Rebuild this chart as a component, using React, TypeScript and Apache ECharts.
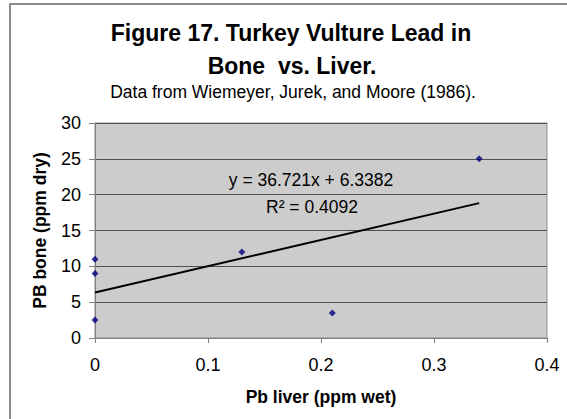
import React, { useEffect, useRef } from "react";
import * as echarts from "echarts";

const liverPb: number[] = [0, 0, 0, 0.13, 0.21, 0.34];
const bonePb: number[] = [2.5, 9, 11, 12, 3.5, 25];
const slope = 36.721;
const intercept = 6.3382;
const rSquared = 0.4092;
const xTicks = { min: 0, max: 0.4, interval: 0.1 };
const yTicks = { min: 0, max: 30, interval: 5 };

const FONT = "'Liberation Sans', Arial, sans-serif";

export default function App() {
  const ref = useRef<HTMLDivElement>(null);
  useEffect(() => {
    if (!ref.current) return;
    const chart = echarts.init(ref.current, null, { renderer: "svg" });
    const xMin = Math.min(...liverPb);
    const xMax = Math.max(...liverPb);
    const trend = [
      [xMin, intercept + slope * xMin],
      [xMax, intercept + slope * xMax],
    ];
    chart.setOption({
      animation: false,
      backgroundColor: "#ffffff",
      textStyle: { fontFamily: FONT },
      graphic: [
        {
          type: "rect",
          shape: { x: 10, y: 4, width: 600, height: 500 },
          style: { fill: "none", stroke: "#8c8c8c", lineWidth: 2 },
          silent: true,
          z: 0,
        },
        {
          type: "text",
          x: 291,
          y: 33,
          style: {
            text: "Figure 17. Turkey Vulture Lead in",
            font: `bold 23px ${FONT}`,
            fill: "#000",
            align: "center",
            verticalAlign: "middle",
          },
        },
        {
          type: "text",
          x: 292,
          y: 66,
          style: {
            text: "Bone  vs. Liver.",
            font: `bold 23px ${FONT}`,
            fill: "#000",
            align: "center",
            verticalAlign: "middle",
          },
        },
        {
          type: "text",
          x: 293,
          y: 92,
          style: {
            text: "Data from Wiemeyer, Jurek, and Moore (1986).",
            font: `17.5px ${FONT}`,
            fill: "#000",
            align: "center",
            verticalAlign: "middle",
          },
        },
        {
          type: "text",
          x: 311,
          y: 180,
          style: {
            text: `y = ${slope}x + ${intercept}`,
            font: `17.5px ${FONT}`,
            fill: "#000",
            align: "center",
            verticalAlign: "middle",
          },
          z: 10,
        },
        {
          type: "text",
          x: 312,
          y: 207,
          style: {
            text: `R² = ${rSquared}`,
            font: `17.5px ${FONT}`,
            fill: "#000",
            align: "center",
            verticalAlign: "middle",
          },
          z: 10,
        },
      ],
      grid: {
        left: 95,
        top: 123,
        right: 20,
        bottom: 81,
        show: true,
        backgroundColor: "#cccccc",
        borderColor: "#8c8c8c",
        borderWidth: 1,
      },
      xAxis: {
        type: "value",
        min: xTicks.min,
        max: xTicks.max,
        interval: xTicks.interval,
        name: "Pb liver (ppm wet)",
        nameLocation: "middle",
        nameGap: 50,
        nameTextStyle: { fontFamily: FONT, fontWeight: "bold", fontSize: 17.5, color: "#000" },
        axisLine: { show: true, onZero: false, lineStyle: { color: "#808080", width: 1 } },
        axisTick: { show: true, inside: false, length: 5, lineStyle: { color: "#808080" } },
        axisLabel: { fontFamily: FONT, fontSize: 18, color: "#000", margin: 18 },
        splitLine: { show: false },
      },
      yAxis: {
        type: "value",
        min: yTicks.min,
        max: yTicks.max,
        interval: yTicks.interval,
        name: "PB bone (ppm dry)",
        nameLocation: "middle",
        nameGap: 46,
        nameTextStyle: { fontFamily: FONT, fontWeight: "bold", fontSize: 17.5, color: "#000" },
        axisLine: { show: true, lineStyle: { color: "#808080", width: 1 } },
        axisTick: { show: true, inside: false, length: 6, lineStyle: { color: "#808080" } },
        axisLabel: { fontFamily: FONT, fontSize: 18, color: "#000", margin: 14 },
        splitLine: { show: true, lineStyle: { color: "#505050", width: 1 } },
      },
      series: [
        {
          type: "line",
          data: trend,
          showSymbol: false,
          symbol: "none",
          lineStyle: { color: "#000000", width: 2 },
          z: 3,
          silent: true,
        },
        {
          type: "scatter",
          data: liverPb.map((x, i) => [x, bonePb[i]]),
          symbol: "diamond",
          symbolSize: 7,
          itemStyle: { color: "#000080" },
          z: 4,
        },
      ],
    });
    return () => chart.dispose();
  }, []);
  return <div ref={ref} style={{ width: 567, height: 419, position: "absolute", left: 0, top: 0 }} />;
}
